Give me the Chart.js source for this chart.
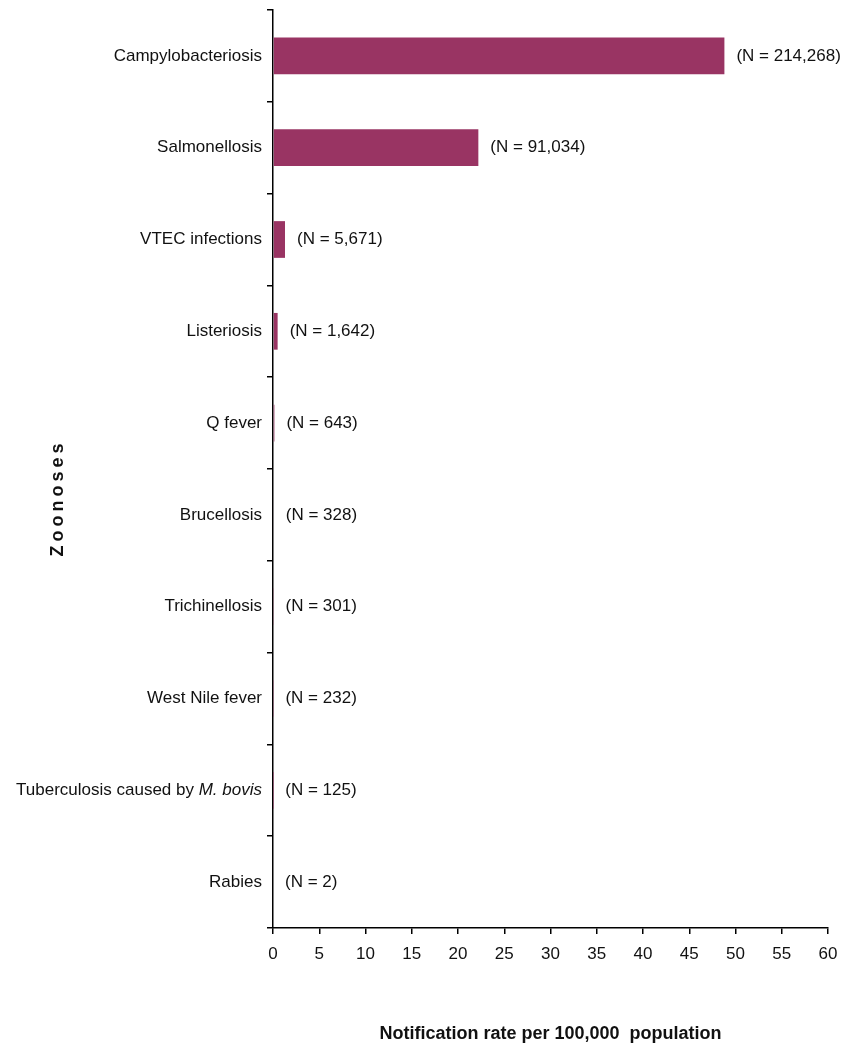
<!DOCTYPE html>
<html>
<head>
<meta charset="utf-8">
<script src="https://cdn.jsdelivr.net/npm/chart.js@4/dist/chart.umd.min.js"></script>
<style>
  html, body { margin: 0; padding: 0; background: #fff; }
  #wrap { width: 842px; height: 1047px; }
</style>
</head>
<body>
<div id="wrap"><canvas id="zoonosesChart"></canvas></div>
<script>
// categories (top to bottom), notification rate per 100,000 and number of cases
const diseases = ['Campylobacteriosis', 'Salmonellosis', 'VTEC infections', 'Listeriosis', 'Q fever',
    'Brucellosis', 'Trichinellosis', 'West Nile fever', 'Tuberculosis caused by M. bovis', 'Rabies'];
const rates = [48.8, 22.2, 1.3, 0.5, 0.15, 0.08, 0.06, 0.05, 0.03, 0];
const cases = ['214,268', '91,034', '5,671', '1,642', '643', '328', '301', '232', '125', '2'];
const xTicks = [0, 5, 10, 15, 20, 25, 30, 35, 40, 45, 50, 55, 60];

const FONT = 'Liberation Sans, Arial, sans-serif';

// category labels drawn by hand so "M. bovis" can be italic
const categoryLabels = {
    id: 'categoryLabels',
    afterDraw(chart) {
        const ctx = chart.ctx;
        const y = chart.scales.y;
        ctx.save();
        ctx.fillStyle = '#111';
        ctx.textBaseline = 'middle';
        ctx.textAlign = 'right';
        const right = chart.chartArea.left - 11;
        diseases.forEach((name, i) => {
            const py = y.getPixelForValue(i);
            if (name.indexOf('M. bovis') > -1) {
                const head = name.replace('M. bovis', '');
                ctx.font = 'italic 17px ' + FONT;
                const w = ctx.measureText('M. bovis').width;
                ctx.fillText('M. bovis', right, py);
                ctx.font = '17px ' + FONT;
                ctx.fillText(head, right - w, py);
            } else {
                ctx.font = '17px ' + FONT;
                ctx.fillText(name, right, py);
            }
        });
        // y axis title, spaced out like the original
        ctx.font = 'bold 18px ' + FONT;
        ctx.letterSpacing = '4px';
        ctx.textAlign = 'center';
        ctx.translate(58, (chart.chartArea.top + chart.chartArea.bottom) / 2 + 29);
        ctx.rotate(-Math.PI / 2);
        ctx.fillText('Zoonoses', 0, 0);
        ctx.restore();
    }
};

// (N = ...) labels at the end of each bar
const countLabels = {
    id: 'countLabels',
    afterDatasetsDraw(chart) {
        const ctx = chart.ctx;
        const x = chart.scales.x, y = chart.scales.y;
        ctx.save();
        ctx.font = '17px ' + FONT;
        ctx.fillStyle = '#111';
        ctx.textBaseline = 'middle';
        ctx.textAlign = 'left';
        rates.forEach((v, i) => {
            ctx.fillText('(N = ' + cases[i] + ')', x.getPixelForValue(v) + 12, y.getPixelForValue(i));
        });
        ctx.restore();
    }
};

new Chart(document.getElementById('zoonosesChart').getContext('2d'), {
    type: 'bar',
    data: {
        labels: diseases,
        datasets: [{
            data: rates,
            backgroundColor: '#993463',
            barPercentage: 0.4,
            categoryPercentage: 1
        }]
    },
    options: {
        indexAxis: 'y',
        responsive: true,
        maintainAspectRatio: false,
        animation: false,
        layout: { padding: { top: 10, right: 14, bottom: 2, left: 0 } },
        plugins: {
            legend: { display: false },
            tooltip: { enabled: false }
        },
        scales: {
            x: {
                min: 0,
                max: 60,
                afterBuildTicks(scale) { scale.ticks = xTicks.map(v => ({ value: v })); },
                afterFit(scale) {
                    scale.height = 117;
                    scale.paddingRight = 0; // layout padding already leaves room for "60"
                },
                border: { display: true, color: '#000', width: 1.5 },
                grid: { drawOnChartArea: false, drawTicks: true, tickLength: 6, color: '#000', lineWidth: 1.5 },
                ticks: { color: '#111', padding: 10, maxRotation: 0, font: { family: FONT, size: 17 } },
                title: {
                    display: true,
                    text: 'Notification rate per 100,000  population',
                    color: '#111',
                    padding: { top: 0, bottom: 0 },
                    font: { family: FONT, size: 18, weight: 'bold' }
                }
            },
            y: {
                afterFit(scale) { scale.width = 273; },
                border: { display: true, color: '#000', width: 1.5 },
                grid: { offset: true, drawOnChartArea: false, drawTicks: true, tickLength: 6, color: '#000', lineWidth: 1.5 },
                ticks: { display: false }
            }
        }
    },
    plugins: [categoryLabels, countLabels]
});
</script>
</body>
</html>
